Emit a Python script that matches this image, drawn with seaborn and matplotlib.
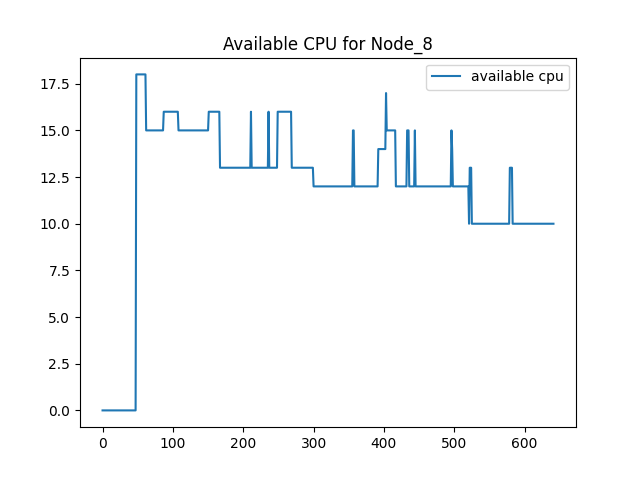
import matplotlib
matplotlib.use("Agg")
import matplotlib.pyplot as plt
import seaborn as sns
import pandas as pd

# =============================================
# 데이터 (변화 지점 기준)
# =============================================
time_steps = [0, 47, 48, 61, 62, 86, 87, 107, 108, 150, 151, 166, 167, 210, 211, 212,
              235, 236, 237, 248, 249, 268, 269, 299, 300, 355, 356, 357, 358, 391,
              392, 402, 403, 404, 416, 417, 432, 433, 435, 436, 443, 444, 445, 495,
              496, 497, 498, 520, 521, 522, 524, 525, 578, 579, 582, 583, 641]
available_cpu = [0, 0, 18, 18, 15, 15, 16, 16, 15, 15, 16, 16, 13, 13, 16, 13,
                 13, 16, 13, 13, 16, 16, 13, 13, 12, 12, 15, 15, 12, 12,
                 14, 14, 17, 15, 15, 12, 12, 15, 15, 12, 12, 15, 12, 12,
                 15, 14, 12, 12, 10, 13, 13, 10, 10, 13, 13, 10, 10]

df = pd.DataFrame({"time": time_steps, "cpu": available_cpu})

# =============================================
# 그래프
# =============================================
fig, ax = plt.subplots(figsize=(6.4, 4.8), dpi=100)
sns.lineplot(data=df, x="time", y="cpu", estimator=None, label="available cpu",
             color="#1f77b4", ax=ax)
ax.set_xlabel("")
ax.set_ylabel("")
ax.set_title("Available CPU for Node_8")
ax.legend(loc="upper right")
plt.savefig("out.png", dpi=100)
plt.close()
